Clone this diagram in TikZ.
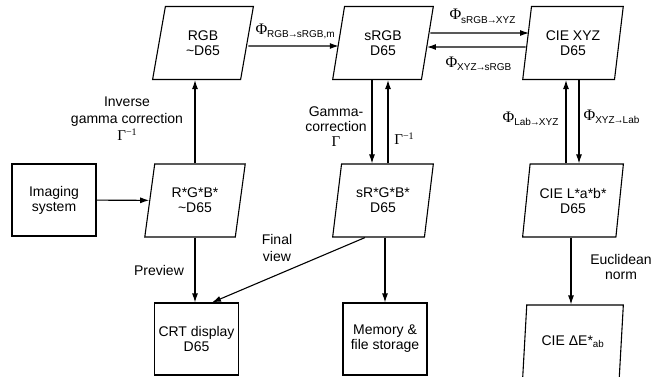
\documentclass[tikz,border=0pt]{standalone}
\usepackage{fontspec}
\setmainfont{Liberation Sans}
\newfontfamily\grk{Liberation Serif}
\usetikzlibrary{shapes.geometric,calc,arrows.meta}
% transform symbol with a small sans subscript
\newcommand\mapsym[1]{{\grk\fontsize{16}{16}\selectfont Φ}\raisebox{-3.5pt}{\fontsize{10}{10}\selectfont #1}}
\newcommand\gam{{\grk\fontsize{15}{15}\selectfont Γ}}
\newcommand\gaminv{{\grk\fontsize{15}{15}\selectfont Γ\raisebox{5pt}{\fontsize{10}{10}\selectfont −1}}}
\newcommand\ar{\kern-1pt→\kern-1pt}
\tikzset{
  cspace/.style={trapezium, trapezium left angle=77, trapezium right angle=103,
    trapezium stretches, draw, minimum width=101pt, minimum height=73pt,
    inner sep=0pt, align=center},
  devbox/.style={rectangle, draw, minimum width=84pt, minimum height=72pt,
    inner sep=0pt, align=center},
  lbl/.style={align=center, inner sep=0pt}
}
\begin{document}
\begin{tikzpicture}[>={Latex[length=9pt,width=6pt]}, x=1pt, y=-1pt, line width=1.1pt,
    font=\fontsize{14}{15}\selectfont]
\useasboundingbox (0,0) rectangle (667,376);

% colour spaces and devices
\node[cspace] (rgb) at (203,43) {RGB\\\textasciitilde D65};
\node[cspace] (srgb) at (383,43) {sRGB\\D65};
\node[cspace] (xyz) at (573,43) {CIE XYZ\\D65};
\node[devbox] (img) at (54,200) {Imaging\\system};
\node[cspace] (rgbs) at (195,200.5) {R*G*B*\\\textasciitilde D65};
\node[cspace] (srgbs) at (383,200.5) {sR*G*B*\\D65};
\node[cspace] (lab) at (573,200.5) {CIE L*a*b*\\D65};
\node[devbox] (crt) at (196.5,339) {CRT display\\D65};
\node[devbox] (mem) at (385,339) {Memory \&\\file storage};
\node[cspace] (de) at (573,341.5) {CIE ΔE*\textsubscript{ab}};

% conversions
\draw[->] (img) -- (rgbs);
\draw[->] (rgbs.90) -- (rgbs.90 |- rgb.270);
\draw[->] (rgbs.270) -- (rgbs.270 |- crt.north);
\draw[->] ($(rgb.0)+(0.7,3)$) -- ($(srgb.180)+(0.7,3)$);
\draw[->] ($(srgb.0)+(2.5,-10)$) -- ($(xyz.180)+(2.5,-10)$);
\draw[->] ($(xyz.180)+(-1,4)$) -- ($(srgb.0)+(-1,4)$);
\draw[->] ($(srgb.270)+(-11,0)$) -- ($(srgbs.90)+(-11,0)$);
\draw[->] ($(srgbs.90)+(5,0)$) -- ($(srgb.270)+(5,0)$);
\draw[->] (mem.north |- srgbs.270) -- (mem.north);
\draw[->] ($(srgbs.270)+(-18,0)$) -- ($(crt.north)+(15.5,0)$);
\draw[->] ($(lab.90)+(-7,0)$) -- ($(xyz.270)+(-7,0)$);
\draw[->] ($(xyz.270)+(6,0)$) -- ($(lab.90)+(6,0)$);
\draw[->] ($(lab.270)+(-2,0)$) -- ($(de.90)+(-2,0)$);

% labels
\node[lbl, font=\fontsize{14}{17}\selectfont] (invg) at (127,119) {Inverse\\gamma correction\\\gaminv};
\node[lbl] (gcor) at (336,127) {Gamma-\\correction\\\gam};
\node[lbl] (ginv) at (404,139) {\gaminv};
\node[lbl, anchor=base west] (m1) at (255,34) {\mapsym{RGB\ar sRGB,m}};
\node[lbl, anchor=base west] (m2) at (449,19.5) {\mapsym{sRGB\ar XYZ}};
\node[lbl, anchor=base west] (m3) at (445,67) {\mapsym{XYZ\ar sRGB}};
\node[lbl, anchor=base west] (m4) at (502,122) {\mapsym{Lab\ar XYZ}};
\node[lbl, anchor=base west] (m5) at (583,120) {\mapsym{XYZ\ar Lab}};
\node[lbl] (prev) at (159,270) {Preview};
\node[lbl, font=\fontsize{14}{17}\selectfont] (fin) at (277,247.5) {Final\\view};
\node[lbl] (eucl) at (621,266.5) {Euclidean\\norm};
\end{tikzpicture}
\end{document}
